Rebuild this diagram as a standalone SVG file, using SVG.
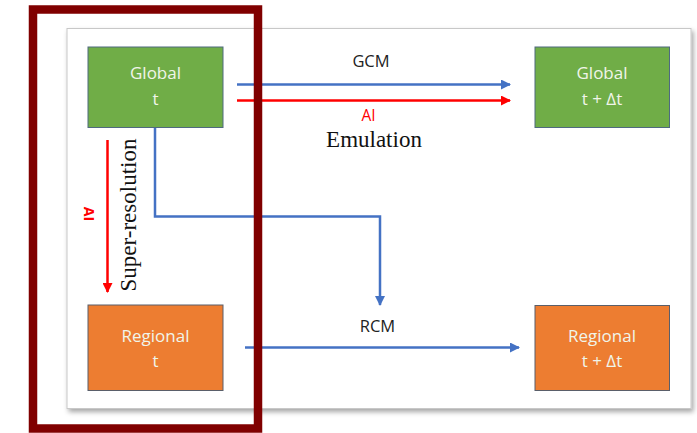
<svg xmlns="http://www.w3.org/2000/svg" width="697" height="433" viewBox="0 0 697 433">
<defs>
<marker id="ab" viewBox="0 0 10 10" refX="9" refY="5" markerWidth="4" markerHeight="4" orient="auto" markerUnits="strokeWidth"><path d="M0,0 L10,5 L0,10 z" fill="#4472C4"/></marker>
<marker id="ar" viewBox="0 0 10 10" refX="9" refY="5" markerWidth="4" markerHeight="4" orient="auto" markerUnits="strokeWidth"><path d="M0,0 L10,5 L0,10 z" fill="#FF0000"/></marker>
<filter id="sh" x="-5%" y="-5%" width="110%" height="115%"><feDropShadow dx="2" dy="3" stdDeviation="2.5" flood-color="#000" flood-opacity="0.35"/></filter>
</defs>
<style>
.g{fill:#70AD47;stroke:#4F6A7F;stroke-width:1}
.o{fill:#ED7D31;stroke:#5A5F6A;stroke-width:1}
.nt{font-family:"Open Sans","Liberation Sans",sans-serif;font-size:17px;fill:#F0F5EA;text-anchor:middle}
.lb{font-family:"Open Sans","Liberation Sans",sans-serif;font-size:16.5px;fill:#222;text-anchor:middle}
.ai{font-family:"Open Sans","Liberation Sans",sans-serif;font-size:15.5px;fill:#FF0000;text-anchor:middle}
.sf{font-family:"Liberation Serif","DejaVu Serif",serif;font-size:23px;fill:#111;text-anchor:middle}
.bl{fill:none;stroke:#4472C4;stroke-width:2.5}
.rd{fill:none;stroke:#FF0000;stroke-width:2.5}
</style>
<rect width="697" height="433" fill="#fff"/>
<rect x="67" y="28.5" width="624" height="380" fill="#fff" stroke="#C8C8C8" stroke-width="1" filter="url(#sh)"/>
<g id="connectors">
<path class="bl" d="M237,84.5 H510" marker-end="url(#ab)"/>
<path class="rd" d="M237,100.5 H510" marker-end="url(#ar)"/>
<path class="bl" d="M155,128 V216.5 H380 V305" marker-end="url(#ab)"/>
<path class="rd" d="M107.5,140 V292" marker-end="url(#ar)"/>
<path class="bl" d="M245,347.5 H519" marker-end="url(#ab)"/>
<text class="lb" x="371" y="67">GCM</text>
<text class="ai" x="368.5" y="121">AI</text>
<text class="sf" x="374" y="147">Emulation</text>
<text class="sf" transform="translate(136,215) rotate(-90)">Super-resolution</text>
<text class="ai" transform="translate(84,214) rotate(90)" style="font-size:14px;font-weight:bold">AI</text>
<text class="lb" x="377.5" y="332">RCM</text>
</g>
<g id="global-t">
<rect class="g" x="88" y="47" width="135" height="80.5"/>
<text class="nt" x="155.5" y="79">Global</text>
<text class="nt" x="155.5" y="105">t</text>
</g>
<g id="global-tdt">
<rect class="g" x="535" y="47" width="134.5" height="80.5"/>
<text class="nt" x="602" y="79">Global</text>
<text class="nt" x="602" y="105">t + Δt</text>
</g>
<g id="regional-t">
<rect class="o" x="88" y="305" width="135" height="85.5"/>
<text class="nt" x="155.5" y="342">Regional</text>
<text class="nt" x="155.5" y="367">t</text>
</g>
<g id="regional-tdt">
<rect class="o" x="535" y="305.5" width="134.5" height="85"/>
<text class="nt" x="602" y="342">Regional</text>
<text class="nt" x="602" y="367">t + Δt</text>
</g>
<rect id="highlight" x="33" y="9.5" width="225" height="419" fill="none" stroke="#800000" stroke-width="8.5"/>
</svg>
